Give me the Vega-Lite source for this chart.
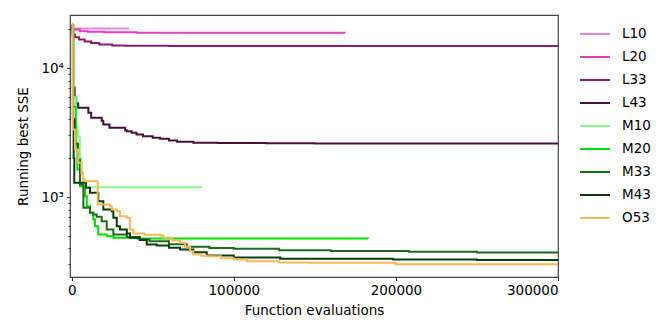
{
  "$schema": "https://vega.github.io/schema/vega-lite/v6.json",
  "width": 488,
  "height": 262,
  "autosize": {"type": "none"},
  "padding": {"left": 70, "top": 15, "right": 112, "bottom": 58},
  "config": {
    "font": "DejaVu Sans",
    "view": {"stroke": "#444", "strokeWidth": 1.2},
    "axis": {"labelFont": "DejaVu Sans", "titleFont": "DejaVu Sans", "labelFontSize": 13.5, "titleFontSize": 13.5, "titleFontWeight": "normal", "labelColor": "#000", "titleColor": "#000", "domain": false, "grid": false, "tickColor": "#333", "tickWidth": 1.1}
  },
  "data": {"values": [
    {"s":"L10","x":0,"y":20230},{"s":"L10","x":35400,"y":20230},
    {"s":"L20","x":0,"y":21000},{"s":"L20","x":600,"y":19860},{"s":"L20","x":5000,"y":19300},{"s":"L20","x":10000,"y":19080},{"s":"L20","x":20000,"y":18900},{"s":"L20","x":40000,"y":18740},{"s":"L20","x":168500,"y":18700},
    {"s":"L33","x":0,"y":21500},{"s":"L33","x":600,"y":18200},{"s":"L33","x":2000,"y":17300},{"s":"L33","x":4600,"y":16640},{"s":"L33","x":8000,"y":16050},{"s":"L33","x":12000,"y":15600},{"s":"L33","x":17000,"y":15210},{"s":"L33","x":25000,"y":14950},{"s":"L33","x":33000,"y":14850},{"s":"L33","x":60000,"y":14800},{"s":"L33","x":300000,"y":14790},
    {"s":"L43","x":0,"y":21500},{"s":"L43","x":900,"y":7060},{"s":"L43","x":1800,"y":6000},{"s":"L43","x":2800,"y":5300},{"s":"L43","x":4000,"y":4915},{"s":"L43","x":10300,"y":4500},{"s":"L43","x":12000,"y":4111},{"s":"L43","x":18500,"y":3900},{"s":"L43","x":19500,"y":3647},{"s":"L43","x":23300,"y":3439},{"s":"L43","x":33000,"y":3300},{"s":"L43","x":34000,"y":3237},{"s":"L43","x":37000,"y":3147},{"s":"L43","x":40000,"y":3050},{"s":"L43","x":44000,"y":2960},{"s":"L43","x":50000,"y":2880},{"s":"L43","x":54500,"y":2826},{"s":"L43","x":60000,"y":2740},{"s":"L43","x":65000,"y":2680},{"s":"L43","x":75000,"y":2640},{"s":"L43","x":90000,"y":2620},{"s":"L43","x":120000,"y":2610},{"s":"L43","x":150000,"y":2600},{"s":"L43","x":300000,"y":2595},
    {"s":"M10","x":0,"y":21000},{"s":"M10","x":1000,"y":6000},{"s":"M10","x":2500,"y":3500},{"s":"M10","x":3700,"y":2890},{"s":"M10","x":5000,"y":2000},{"s":"M10","x":6000,"y":1500},{"s":"M10","x":7000,"y":1191},{"s":"M10","x":80200,"y":1191},
    {"s":"M20","x":0,"y":21000},{"s":"M20","x":1000,"y":5000},{"s":"M20","x":2500,"y":2500},{"s":"M20","x":3500,"y":1633},{"s":"M20","x":5100,"y":1212},{"s":"M20","x":8200,"y":1014},{"s":"M20","x":9300,"y":849},{"s":"M20","x":11300,"y":754},{"s":"M20","x":13300,"y":669},{"s":"M20","x":14400,"y":594},{"s":"M20","x":16400,"y":512},{"s":"M20","x":21600,"y":496},{"s":"M20","x":25700,"y":483},{"s":"M20","x":40000,"y":478},{"s":"M20","x":182700,"y":476},
    {"s":"M33","x":0,"y":21000},{"s":"M33","x":800,"y":4000},{"s":"M33","x":2000,"y":2600},{"s":"M33","x":3900,"y":1953},{"s":"M33","x":5100,"y":1250},{"s":"M33","x":7200,"y":825},{"s":"M33","x":11300,"y":754},{"s":"M33","x":13300,"y":732},{"s":"M33","x":15400,"y":702},{"s":"M33","x":18500,"y":649},{"s":"M33","x":21600,"y":560},{"s":"M33","x":25700,"y":512},{"s":"M33","x":34000,"y":491},{"s":"M33","x":42000,"y":468},{"s":"M33","x":48000,"y":454},{"s":"M33","x":60000,"y":430},{"s":"M33","x":71000,"y":411},{"s":"M33","x":85000,"y":403},{"s":"M33","x":100000,"y":397},{"s":"M33","x":128000,"y":387},{"s":"M33","x":160000,"y":382},{"s":"M33","x":208000,"y":376},{"s":"M33","x":250000,"y":372},{"s":"M33","x":300000,"y":369},
    {"s":"M43","x":0,"y":21000},{"s":"M43","x":700,"y":4000},{"s":"M43","x":1200,"y":2000},{"s":"M43","x":1600,"y":1288},{"s":"M43","x":8800,"y":1180},{"s":"M43","x":11300,"y":1080},{"s":"M43","x":16400,"y":928},{"s":"M43","x":19500,"y":800},{"s":"M43","x":24700,"y":776},{"s":"M43","x":25700,"y":690},{"s":"M43","x":27800,"y":594},{"s":"M43","x":29800,"y":560},{"s":"M43","x":34000,"y":521},{"s":"M43","x":36000,"y":483},{"s":"M43","x":42000,"y":465},{"s":"M43","x":46300,"y":429},{"s":"M43","x":52500,"y":421},{"s":"M43","x":60000,"y":405},{"s":"M43","x":66800,"y":392},{"s":"M43","x":75000,"y":373},{"s":"M43","x":83300,"y":352},{"s":"M43","x":100000,"y":340},{"s":"M43","x":128600,"y":332},{"s":"M43","x":198300,"y":328},{"s":"M43","x":250000,"y":325},{"s":"M43","x":300000,"y":322},
    {"s":"O53","x":0,"y":22000},{"s":"O53","x":700,"y":3337},{"s":"O53","x":2000,"y":2334},{"s":"O53","x":4000,"y":1841},{"s":"O53","x":6000,"y":1540},{"s":"O53","x":7000,"y":1367},{"s":"O53","x":8000,"y":1326},{"s":"O53","x":16000,"y":875},{"s":"O53","x":23600,"y":849},{"s":"O53","x":24700,"y":800},{"s":"O53","x":28000,"y":776},{"s":"O53","x":29800,"y":710},{"s":"O53","x":34000,"y":690},{"s":"O53","x":35900,"y":560},{"s":"O53","x":38000,"y":521},{"s":"O53","x":45000,"y":510},{"s":"O53","x":54500,"y":503},{"s":"O53","x":56500,"y":483},{"s":"O53","x":62000,"y":460},{"s":"O53","x":66800,"y":442},{"s":"O53","x":70000,"y":411},{"s":"O53","x":73000,"y":380},{"s":"O53","x":75000,"y":358},{"s":"O53","x":80000,"y":350},{"s":"O53","x":83300,"y":347},{"s":"O53","x":92000,"y":335},{"s":"O53","x":100000,"y":328},{"s":"O53","x":108000,"y":318},{"s":"O53","x":128000,"y":311},{"s":"O53","x":147000,"y":309},{"s":"O53","x":200000,"y":302},{"s":"O53","x":300000,"y":300}
  ]},
  "mark": {"type": "line", "interpolate": "step-after", "strokeWidth": 2, "clip": true},
  "encoding": {
    "x": {"field": "x", "type": "quantitative", "scale": {"domain": [-1050, 300000], "nice": false, "zero": false},
      "axis": {"values": [0, 100000, 200000, 300000], "format": "d", "title": "Function evaluations", "tickSize": 3.5, "labelPadding": 3, "titlePadding": 6}},
    "y": {"field": "y", "type": "quantitative", "scale": {"type": "log", "domain": [240, 25760], "nice": false},
      "axis": {"values": [300,400,500,600,700,800,900,1000,2000,3000,4000,5000,6000,7000,8000,9000,10000,20000],
        "labelExpr": "datum.value == 1000 ? '10³' : (datum.value == 10000 ? '10⁴' : '')",
        "tickSize": {"condition": {"test": "datum.value == 1000 || datum.value == 10000", "value": 3.5}, "value": 2},
        "title": "Running best SSE", "labelPadding": 3, "titlePadding": 10}},
    "color": {"field": "s", "type": "nominal",
      "scale": {"domain": ["L10","L20","L33","L43","M10","M20","M33","M43","O53"],
        "range": ["#f57fd7","#e83ebf","#8c1a6e","#4b0f3e","#8cf78c","#00dd00","#1c6b1c","#0b3b0b","#f5b95a"]},
      "legend": {"title": null, "orient": "none", "legendX": 509, "legendY": 3, "symbolType": "stroke", "symbolSize": 900, "symbolStrokeWidth": 2, "labelFontSize": 13.5, "labelFont": "DejaVu Sans", "labelColor": "#000", "labelOffset": 11, "rowPadding": -2.2}}
  }
}
